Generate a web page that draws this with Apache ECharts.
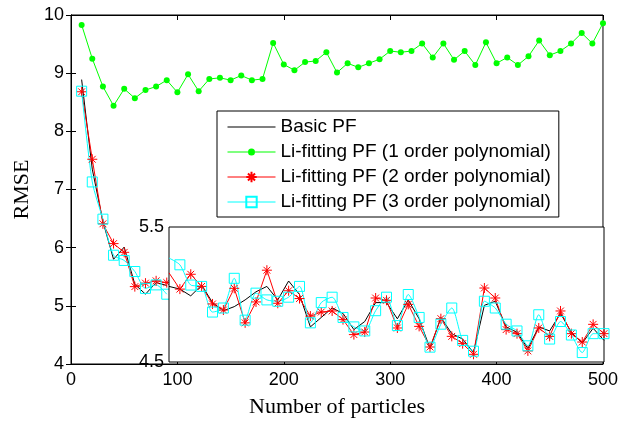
<!DOCTYPE html>
<html>
<head>
<meta charset="utf-8">
<script src="https://cdn.jsdelivr.net/npm/echarts@6/dist/echarts.min.js"></script>
<style>
  html, body { margin: 0; padding: 0; background: #fff; }
  #chart { width: 621px; height: 423px; }
</style>
</head>
<body>
<div id="chart"></div>
<script>
// particle counts
const xAll = [10, 20, 30, 40, 50, 60, 70, 80, 90, 100, 110, 120, 130, 140, 150, 160, 170, 180, 190, 200,
  210, 220, 230, 240, 250, 260, 270, 280, 290, 300, 310, 320, 330, 340, 350, 360, 370, 380, 390, 400,
  410, 420, 430, 440, 450, 460, 470, 480, 490, 500]
const xHead = [10, 20, 30, 40, 50, 60, 70, 80, 90]
const xTail = [100, 110, 120, 130, 140, 150, 160, 170, 180, 190, 200, 210, 220, 230, 240, 250, 260, 270,
  280, 290, 300, 310, 320, 330, 340, 350, 360, 370, 380, 390, 400, 410, 420, 430, 440, 450, 460, 470,
  480, 490, 500]

// Li-fitting PF (1 order polynomial)
const poly1 = [9.83, 9.25, 8.77, 8.44, 8.73, 8.57, 8.71, 8.77, 8.88, 8.67,
  8.98, 8.69, 8.90, 8.92, 8.88, 8.96, 8.88, 8.90, 9.52, 9.15,
  9.05, 9.19, 9.21, 9.36, 9.01, 9.17, 9.10, 9.17, 9.24, 9.38,
  9.36, 9.38, 9.51, 9.27, 9.51, 9.23, 9.38, 9.14, 9.53, 9.17,
  9.27, 9.14, 9.29, 9.56, 9.31, 9.38, 9.51, 9.69, 9.51, 9.86]

// main axes part (10..90)
const basicHead = [8.89, 7.35, 6.45, 5.80, 6.01, 5.37, 5.20, 5.40, 5.35]
const poly2Head = [8.68, 7.52, 6.41, 6.07, 5.92, 5.33, 5.39, 5.43, 5.40]
const poly3Head = [8.69, 7.13, 6.49, 5.87, 5.78, 5.59, 5.30, 5.36, 5.20]

// inset part (100..500)
const basicTail = [5.06, 5.04, 4.99, 5.07, 4.94, 4.88, 4.91, 4.96, 5.02, 5.06,
  4.96, 5.10, 5.00, 4.76, 4.83, 4.90, 4.86, 4.74, 4.80, 4.94,
  4.94, 4.82, 4.96, 4.82, 4.60, 4.83, 4.71, 4.67, 4.57, 4.92,
  4.95, 4.76, 4.72, 4.60, 4.76, 4.73, 4.86, 4.72, 4.64, 4.75,
  4.66]
const poly2Tail = [5.16, 5.04, 5.15, 5.06, 4.93, 4.885, 5.046, 4.79, 4.945, 5.18,
  4.935, 5.028, 4.97, 4.84, 4.87, 4.878, 4.814, 4.703, 4.722, 4.974,
  4.957, 4.752, 4.927, 4.764, 4.611, 4.821, 4.69, 4.636, 4.557, 5.048,
  4.974, 4.74, 4.71, 4.582, 4.752, 4.69, 4.878, 4.71, 4.648, 4.779,
  4.71]
const poly3Tail = [5.27, 5.22, 5.07, 5.06, 4.87, 4.90, 5.12, 4.81, 5.01, 4.96,
  4.95, 4.98, 5.06, 4.79, 4.94, 4.98, 4.83, 4.76, 4.73, 4.88,
  4.98, 4.77, 5.00, 4.83, 4.61, 4.78, 4.90, 4.66, 4.58, 4.95,
  4.90, 4.78, 4.73, 4.62, 4.85, 4.67, 4.80, 4.70, 4.57, 4.71,
  4.71]

const names = ['Basic PF', 'Li-fitting PF (1 order polynomial)',
  'Li-fitting PF (2 order polynomial)', 'Li-fitting PF (3 order polynomial)']

const pairs = (xs, ys) => xs.map((x, i) => [x, ys[i]])
// first inset point sits on the inset edge: line only, no marker
const tail = ys => xTail.map((x, i) => (i === 0 ? { value: [x, ys[i]], symbol: 'none' } : [x, ys[i]]))

const sans = 'Liberation Sans, Arial, sans-serif'
const serif = 'Liberation Serif, Times New Roman, serif'
const star = 'path://M5,0L5,10M0,5L10,5M1.6,1.6L8.4,8.4M1.6,8.4L8.4,1.6'
const lineIcon = 'path://M0,0h48v1h-48z'
const dotIcon = 'path://M0,3h20.5v1h-20.5zM27.5,3h20.5v1h-20.5zM27.5,3.5a3.5,3.5 0 1,1 -7,0a3.5,3.5 0 1,1 7,0z'

const tickIn = { show: true, inside: true, length: 5, lineStyle: { color: '#000' } }

function basic(xi, yi, data, z) {
  return {
    name: names[0], type: 'line', xAxisIndex: xi, yAxisIndex: yi, z: z,
    data: data, symbol: 'none',
    lineStyle: { color: '#000', width: 1 }, itemStyle: { color: '#000' }
  }
}
function red(xi, yi, data, z) {
  return {
    name: names[2], type: 'line', xAxisIndex: xi, yAxisIndex: yi, z: z,
    data: data, symbol: star, symbolSize: 10,
    lineStyle: { color: '#ff0000', width: 1 },
    itemStyle: { color: '#ff0000', borderColor: '#ff0000', borderWidth: 1 }
  }
}
function cyan(xi, yi, data, z) {
  return {
    name: names[3], type: 'line', xAxisIndex: xi, yAxisIndex: yi, z: z,
    data: data, symbol: 'rect', symbolSize: 10, smooth: 0.25,
    lineStyle: { color: '#00ffff', width: 1 },
    itemStyle: { color: 'rgba(0,0,0,0)', borderColor: '#00ffff', borderWidth: 1 }
  }
}

const chart = echarts.init(document.getElementById('chart'))
chart.setOption({
  animation: false,
  backgroundColor: '#fff',
  legend: {
    left: 217, top: 111, orient: 'vertical',
    data: [
      { name: names[0], icon: lineIcon, itemStyle: { color: '#000' } },
      { name: names[1], icon: dotIcon, itemStyle: { color: '#00ff00' } },
      names[2],
      names[3]
    ],
    selectedMode: false,
    backgroundColor: '#fff', borderColor: '#000', borderWidth: 1, borderRadius: 0,
    padding: [6, 8, 5, 10],
    itemWidth: 48, itemHeight: 13, itemGap: 5,
    lineStyle: { width: 1 },
    textStyle: { fontFamily: sans, fontSize: 19, lineHeight: 20, color: '#000' },
    z: 20
  },
  grid: [
    { left: 71, top: 15, width: 533, height: 352, show: true, borderColor: '#000', borderWidth: 1, backgroundColor: '#fff' },
    { left: 169, top: 227, width: 435, height: 135, show: true, borderColor: '#000', borderWidth: 1, backgroundColor: '#fff', z: 4 }
  ],
  xAxis: [
    {
      gridIndex: 0, type: 'value', min: 0, max: 500, interval: 100, position: 'bottom',
      axisLine: { show: true, lineStyle: { color: '#000' } }, axisTick: tickIn,
      splitLine: { show: false },
      axisLabel: { color: '#000', fontFamily: sans, fontSize: 18, margin: 7 },
      name: 'Number of particles', nameLocation: 'middle', nameGap: 32,
      nameTextStyle: { fontFamily: serif, fontSize: 22, color: '#000' }
    },
    {
      gridIndex: 0, type: 'value', min: 0, max: 500, interval: 100, position: 'top',
      axisLine: { show: true, lineStyle: { color: '#000' } }, axisTick: tickIn,
      splitLine: { show: false }, axisLabel: { show: false }
    },
    {
      gridIndex: 1, type: 'value', min: 100, max: 500, show: false
    }
  ],
  yAxis: [
    {
      gridIndex: 0, type: 'value', min: 4, max: 10, interval: 1, position: 'left',
      axisLine: { show: true, lineStyle: { color: '#000' } }, axisTick: tickIn,
      splitLine: { show: false },
      axisLabel: { color: '#000', fontFamily: sans, fontSize: 18, margin: 7 },
      name: 'RMSE', nameLocation: 'middle', nameGap: 30, nameRotate: 90,
      nameTextStyle: { fontFamily: serif, fontSize: 22, color: '#000' }
    },
    {
      gridIndex: 0, type: 'value', min: 4, max: 10, interval: 1, position: 'right',
      axisLine: { show: true, lineStyle: { color: '#000' } }, axisTick: tickIn,
      splitLine: { show: false }, axisLabel: { show: false }
    },
    {
      gridIndex: 1, type: 'value', min: 4.5, max: 5.5, interval: 0.5, position: 'left', z: 6,
      axisLine: { show: false }, axisTick: { show: false }, splitLine: { show: false },
      axisLabel: {
        color: '#000', fontFamily: sans, fontSize: 18, margin: 5,
        formatter: v => (v === 5 ? '' : String(v))
      }
    }
  ],
  series: [
    basic(0, 0, pairs(xHead, basicHead), 2),
    {
      name: names[1], type: 'line', xAxisIndex: 0, yAxisIndex: 0, z: 2,
      data: pairs(xAll, poly1), symbol: 'circle', symbolSize: 6,
      lineStyle: { color: '#00ff00', width: 1 }, itemStyle: { color: '#00ff00' }
    },
    red(0, 0, pairs(xHead, poly2Head), 2),
    cyan(0, 0, pairs(xHead, poly3Head), 2),
    basic(2, 2, tail(basicTail), 6),
    red(2, 2, tail(poly2Tail), 6),
    cyan(2, 2, tail(poly3Tail), 6)
  ]
})
</script>
</body>
</html>
